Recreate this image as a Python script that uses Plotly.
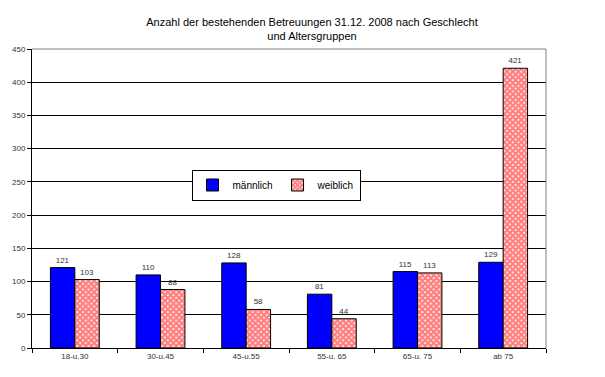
import plotly.graph_objects as go

categories = ["18-u.30", "30-u.45", "45-u.55", "55-u. 65", "65-u. 75", "ab 75"]
maennlich = [121, 110, 128, 81, 115, 129]
weiblich = [103, 88, 58, 44, 113, 421]
y_ticks = [0, 50, 100, 150, 200, 250, 300, 350, 400, 450]

FONT = "Liberation Sans, Arial, sans-serif"

fig = go.Figure()
fig.add_trace(go.Bar(
    x=categories, y=maennlich, name="männlich",
    marker=dict(color="#0000FF", line=dict(color="black", width=1)),
    text=maennlich, textposition="outside", cliponaxis=False,
    textfont=dict(size=8, color="#333333", family=FONT),
))
fig.add_trace(go.Bar(
    x=categories, y=weiblich, name="weiblich",
    marker=dict(color="white", line=dict(color="black", width=1),
                pattern=dict(shape="x", fgcolor="#FF0000", bgcolor="white", size=4, solidity=0.8)),
    text=weiblich, textposition="outside", cliponaxis=False,
    textfont=dict(size=8, color="#333333", family=FONT),
))

fig.update_layout(
    width=605, height=377,
    margin=dict(l=32, r=59, t=49, b=29),
    paper_bgcolor="white", plot_bgcolor="white",
    barmode="group", bargap=0.43, bargroupgap=0,
    font=dict(family=FONT, size=8, color="black"),
    showlegend=True,
    legend=dict(orientation="h", x=(276 - 32) / 514, y=(348 - 185) / 299, xanchor="center", yanchor="middle",
                bgcolor="white", bordercolor="black", borderwidth=1,
                font=dict(size=10, family=FONT), itemwidth=30, tracegroupgap=0),
    title=dict(text="Anzahl der bestehenden Betreuungen 31.12. 2008 nach Geschlecht<br>und Altersgruppen",
               x=312 / 605, y=1 - 26 / 377, xref="container", yref="container",
               xanchor="center", yanchor="middle", font=dict(size=11, family=FONT, color="black")),
)
fig.update_xaxes(
    type="category", tickson="boundaries", ticks="outside", ticklen=4, tickcolor="black",
    showline=True, linecolor="black", linewidth=1, mirror=False,
    showgrid=False, tickfont=dict(size=8, color="#333333"),
)
fig.update_yaxes(
    range=[0, 450], tickvals=y_ticks, ticks="outside", ticklen=4, tickcolor="black",
    showline=True, linecolor="black", linewidth=1,
    showgrid=True, gridcolor="black", gridwidth=1, zeroline=False,
    tickfont=dict(size=8, color="#333333"),
)
fig.add_shape(type="line", xref="paper", yref="paper", x0=0, x1=1, y0=1, y1=1, line=dict(color="gray", width=1))
fig.add_shape(type="line", xref="paper", yref="paper", x0=1, x1=1, y0=0, y1=1, line=dict(color="gray", width=1))

fig.write_html("out.html", config={"displayModeBar": False},
               post_script="document.body.style.margin='0';")
